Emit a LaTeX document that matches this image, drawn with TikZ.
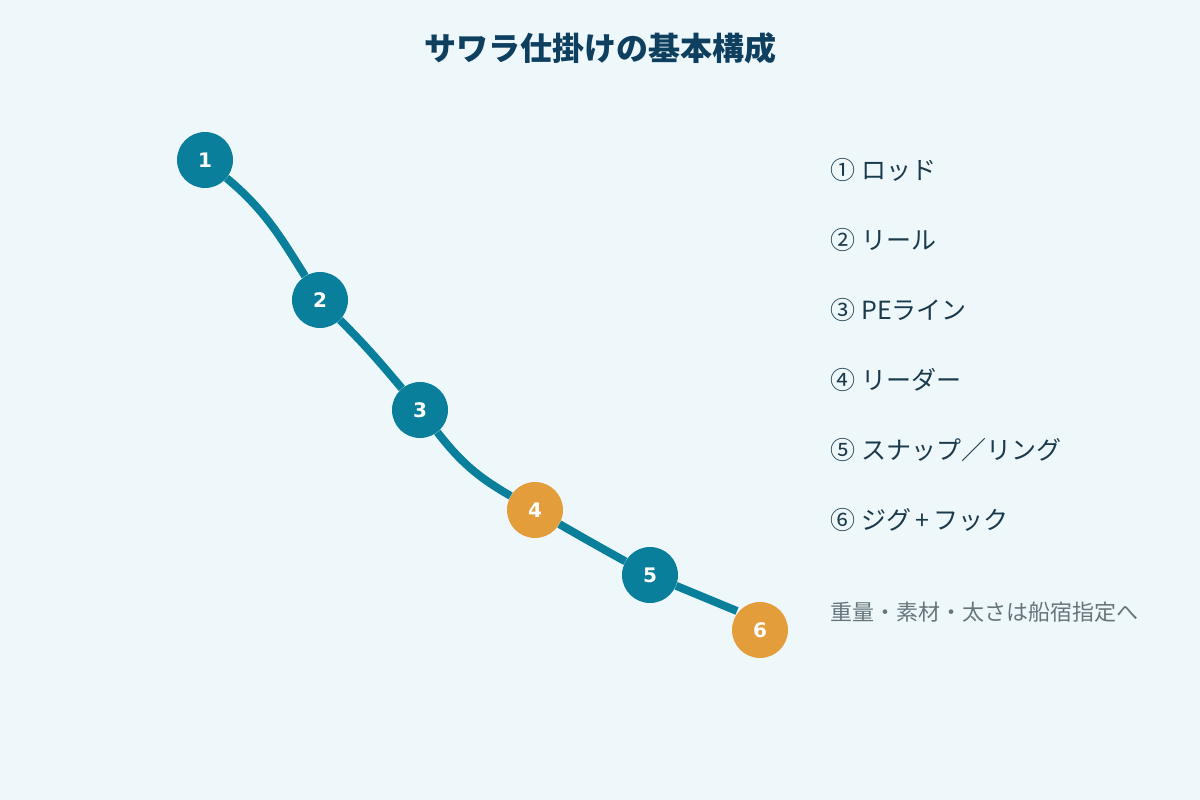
\documentclass[tikz,border=0pt]{standalone}
\usepackage{fontspec}
\setmainfont{DejaVu Sans}
\newfontfamily\jpfont{Noto Sans CJK JP}
\usepackage{tikz}
\usetikzlibrary{positioning}
\definecolor{bgblue}{HTML}{EEF8FB}
\definecolor{rigteal}{HTML}{0A7F9B}
\definecolor{jigorange}{HTML}{E39D3A}
\definecolor{titleblue}{HTML}{0F3F5F}
\definecolor{legendtext}{HTML}{1B3A4B}
\definecolor{notegray}{HTML}{66757B}
\tikzset{part/.style = {circle, fill=rigteal, minimum size=56pt, inner sep=0pt, text=white,
                        font=\bfseries\fontsize{20}{24}\selectfont}}
\tikzset{accent/.style = {part, fill=jigorange}}
\tikzset{rigline/.style = {rigteal, line width=8pt}}
\tikzset{legend/.style = {anchor=west, inner sep=0pt, text=legendtext, font=\jpfont\fontsize{25}{29}\selectfont}}

\begin{document}
\begin{tikzpicture}[x=1pt, y=-1pt]
                    \fill[bgblue] (0,0) rectangle (1200,800);
                    \node[text=titleblue, font=\jpfont\bfseries\fontsize{32}{38}\selectfont] (title) at (600,48) {サワラ仕掛けの基本構成};

                    % parts along the rig
                    \node[part] (P 1) at (205,160) {1};
                    \node[part] (P 2) at (320,300) {2};
                    \node[part] (P 3) at (420,410) {3};
                    \node[accent] (P 4) at (535,510) {4};
                    \node[part] (P 5) at (650,575) {5};
                    \coordinate (tip) at (737,611);

                    % the line from rod to jig
                    \draw[rigline] (P 1) to[out=-40, in=122] (P 2);
                    \draw[rigline] (P 2) to[out=-45, in=130] (P 3);
                    \draw[rigline] (P 3) to[out=-52, in=150] (P 4);
                    \draw[rigline] (P 4) to[out=-30, in=151] (P 5);
                    \draw[rigline] (P 5) -- (tip);
                    \node[accent] (P 6) at (760,630) {6};

                    % legend
                    \foreach \i/\txt in {1/①\hspace{6pt}ロッド, 2/②\hspace{6pt}リール, 3/③\hspace{6pt}PEライン, 4/④\hspace{6pt}リーダー,
                                         5/⑤\hspace{6pt}スナップ／リング, 6/⑥\hspace{6pt}ジグ\,+\,フック}{
                    \node[legend] (L \i) at (830,100+70*\i) {\txt}; }
                    \node[legend, text=notegray, font=\jpfont\fontsize{22}{26}\selectfont] (note) at (830,612) {重量・素材・太さは船宿指定へ};
                \end{tikzpicture}
\end{document}
